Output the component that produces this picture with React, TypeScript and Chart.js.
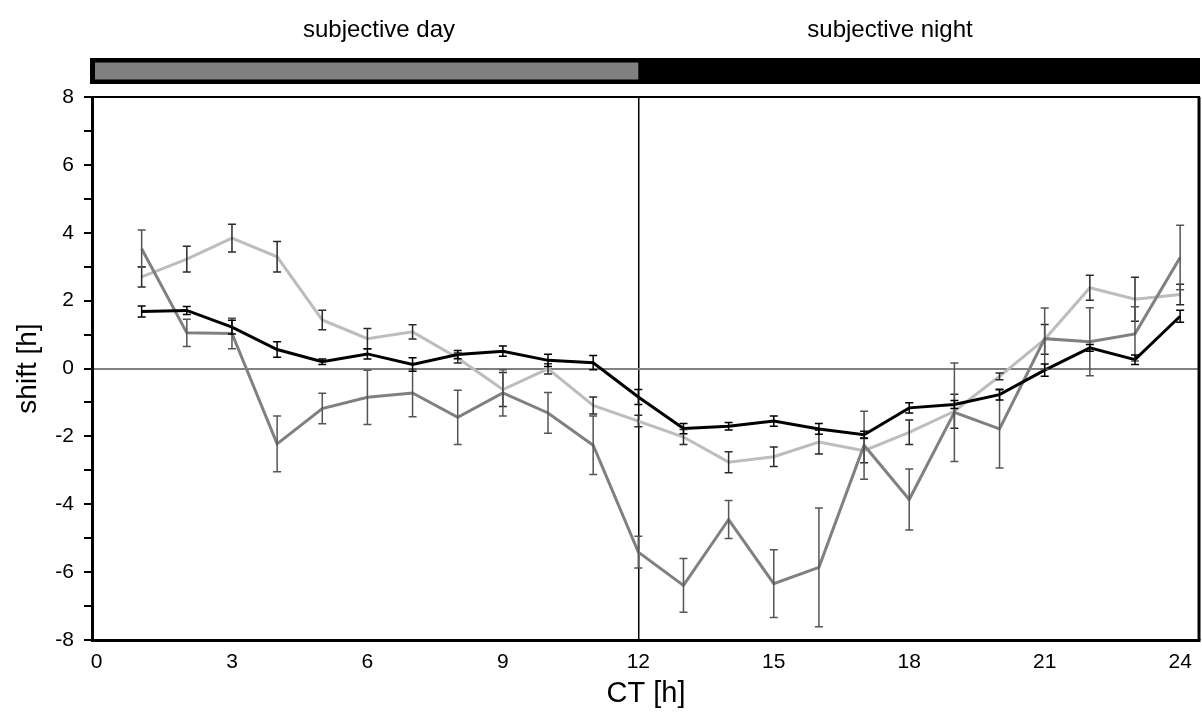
import React, { useEffect, useRef } from "react";
import { Chart, registerables } from "chart.js";

Chart.register(...registerables);

// ---- data ----
const ctHours = [1, 2, 3, 4, 5, 6, 7, 8, 9, 10, 11, 12, 13, 14, 15, 16, 17, 18, 19, 20, 21, 22, 23, 24];

const blackMean = [1.68, 1.71, 1.22, 0.56, 0.2, 0.43, 0.12, 0.41, 0.51, 0.24, 0.17, -0.84, -1.77, -1.7, -1.55, -1.78, -1.95, -1.16, -1.06, -0.77, -0.05, 0.61, 0.26, 1.54];
const blackErr = [0.16, 0.12, 0.2, 0.23, 0.08, 0.15, 0.2, 0.12, 0.15, 0.18, 0.21, 0.22, 0.15, 0.11, 0.15, 0.16, 0.1, 0.15, 0.12, 0.16, 0.18, 0.1, 0.14, 0.18];

const darkMean = [3.53, 1.05, 1.03, -2.22, -1.18, -0.85, -0.72, -1.44, -0.72, -1.31, -2.26, -5.41, -6.39, -4.45, -6.34, -5.86, -2.26, -3.86, -1.29, -1.78, 0.88, 0.79, 1.02, 3.27];
const darkErr = [0.55, 0.4, 0.45, 0.82, 0.45, 0.8, 0.7, 0.8, 0.68, 0.6, 0.86, 0.47, 0.79, 0.56, 1.0, 1.75, 1.0, 0.9, 1.45, 1.15, 0.9, 1.0, 0.8, 0.95];

const lightMean = [2.7, 3.22, 3.84, 3.29, 1.43, 0.88, 1.08, 0.31, -0.62, -0.01, -1.09, -1.55, -2.02, -2.76, -2.6, -2.17, -2.42, -1.88, -1.26, -0.23, 0.86, 2.38, 2.04, 2.18];
const lightErr = [0.3, 0.38, 0.41, 0.45, 0.29, 0.3, 0.21, 0.15, 0.5, 0.15, 0.25, 0.17, 0.22, 0.31, 0.29, 0.35, 0.36, 0.36, 0.5, 0.1, 0.44, 0.37, 0.65, 0.3];

const xTickLabels = [0, 3, 6, 9, 12, 15, 18, 21, 24];
const dayStart = 0;
const dayEnd = 12;
const dayLabel = "subjective day";
const nightLabel = "subjective night";

const FONT = "'Liberation Sans', Arial, Helvetica, sans-serif";

const seriesErrors = [blackErr, darkErr, lightErr];
const errColors = ["#000000", "#555555", "#2a2a2a"];

const errorBarPlugin = {
  id: "errorBars",
  afterDatasetsDraw(chart: any) {
    const { ctx, chartArea, scales } = chart;
    const xs = scales.x;
    const ys = scales.y;
    ctx.save();
    ctx.beginPath();
    ctx.rect(chartArea.left, chartArea.top, chartArea.right - chartArea.left, chartArea.bottom - chartArea.top);
    ctx.clip();
    ctx.lineWidth = 1.5;
    for (let d = chart.data.datasets.length - 1; d >= 0; d--) {
      const ds = chart.data.datasets[d];
      const errs = seriesErrors[d];
      ctx.strokeStyle = errColors[d];
      ds.data.forEach((pt: any, i: number) => {
        const e = errs[i];
        const x = xs.getPixelForValue(pt.x);
        const yHi = ys.getPixelForValue(pt.y + e);
        const yLo = ys.getPixelForValue(pt.y - e);
        ctx.beginPath();
        ctx.moveTo(x, yHi);
        ctx.lineTo(x, yLo);
        ctx.moveTo(x - 4, yHi);
        ctx.lineTo(x + 4, yHi);
        ctx.moveTo(x - 4, yLo);
        ctx.lineTo(x + 4, yLo);
        ctx.stroke();
      });
    }
    ctx.restore();
  },
};

const decorPlugin = {
  id: "decor",
  afterDraw(chart: any) {
    const { ctx, chartArea, scales } = chart;
    const xs = scales.x;
    ctx.save();
    ctx.strokeStyle = "#000";
    ctx.lineWidth = 2;
    ctx.beginPath();
    ctx.moveTo(chartArea.left, chartArea.top);
    ctx.lineTo(chartArea.right, chartArea.top);
    ctx.stroke();
    ctx.lineWidth = 3;
    ctx.beginPath();
    ctx.moveTo(chartArea.right - 1, chartArea.top);
    ctx.lineTo(chartArea.right - 1, chartArea.bottom);
    ctx.stroke();

    // day/night bar
    const barTop = 58;
    const barBottom = 84;
    const barLeft = chartArea.left - 2;
    const barRight = chartArea.right;
    ctx.fillStyle = "#000";
    ctx.fillRect(barLeft, barTop, barRight - barLeft, barBottom - barTop);
    const gx0 = Math.max(xs.getPixelForValue(dayStart) - 1.5, barLeft + 5);
    const gx1 = xs.getPixelForValue(dayEnd);
    ctx.fillStyle = "#808080";
    ctx.fillRect(gx0, barTop + 4.5, gx1 - gx0, barBottom - barTop - 9);

    ctx.fillStyle = "#000";
    ctx.font = `24px ${FONT}`;
    ctx.textAlign = "center";
    ctx.textBaseline = "alphabetic";
    ctx.fillText(dayLabel, 379, 37);
    ctx.fillText(nightLabel, 890, 37);
    ctx.restore();
  },
};

export default function App() {
  const canvasRef = useRef<HTMLCanvasElement | null>(null);

  useEffect(() => {
    if (!canvasRef.current) return;
    const mk = (ys: number[]) => ys.map((y, i) => ({ x: ctHours[i], y }));
    const chart = new Chart(canvasRef.current, {
      type: "line",
      data: {
        datasets: [
          { label: "A", data: mk(blackMean), borderColor: "#000000", borderWidth: 3, pointRadius: 0, tension: 0, fill: false },
          { label: "B", data: mk(darkMean), borderColor: "#808080", borderWidth: 3, pointRadius: 0, tension: 0, fill: false },
          { label: "C", data: mk(lightMean), borderColor: "#bdbdbd", borderWidth: 3, pointRadius: 0, tension: 0, fill: false },
        ],
      },
      options: {
        responsive: false,
        animation: false,
        devicePixelRatio: 1,
        layout: { padding: { top: 97, right: 2, left: 0, bottom: 0 } },
        plugins: { legend: { display: false }, tooltip: { enabled: false }, title: { display: false } },
        scales: {
          x: {
            type: "linear",
            min: -0.1,
            max: 24.44,
            afterBuildTicks: (scale: any) => {
              scale.ticks = xTickLabels.map((v) => ({ value: v }));
            },
            afterFit: (scale: any) => {
              scale.height = 76;
            },
            ticks: {
              color: "#000",
              font: { family: FONT, size: 21 },
              padding: 10,
              maxRotation: 0,
              autoSkip: false,
            },
            grid: {
              drawTicks: false,
              color: (c: any) => (c.tick && c.tick.value === 12 ? "#000" : "rgba(0,0,0,0)"),
              lineWidth: 1.5,
            },
            border: { display: true, color: "#000", width: 3 },
            title: {
              display: true,
              text: "CT [h]",
              color: "#000",
              font: { family: FONT, size: 29 },
              padding: { top: 0, bottom: 5 },
            },
          },
          y: {
            type: "linear",
            min: -8,
            max: 8,
            afterFit: (scale: any) => {
              scale.width = 92;
            },
            ticks: {
              stepSize: 1,
              color: "#000",
              font: { family: FONT, size: 21 },
              padding: 10,
              callback: (v: any) => (Number(v) % 2 === 0 ? String(v) : ""),
            },
            grid: {
              drawTicks: true,
              tickLength: 8,
              tickColor: "#000",
              tickWidth: 2,
              color: (c: any) => (c.tick && c.tick.value === 0 ? "#808080" : "rgba(0,0,0,0)"),
              lineWidth: 2,
            },
            border: { display: true, color: "#000", width: 3 },
            title: {
              display: true,
              text: "shift [h]",
              color: "#000",
              font: { family: FONT, size: 28 },
              padding: { top: 11, bottom: 0 },
            },
          },
        },
      },
      plugins: [errorBarPlugin, decorPlugin],
    } as any);
    return () => chart.destroy();
  }, []);

  return (
    <div style={{ position: "fixed", left: 0, top: 0, width: 1202, height: 716, background: "#fff" }}>
      <canvas ref={canvasRef} width={1202} height={716} style={{ width: 1202, height: 716, display: "block" }} />
    </div>
  );
}
